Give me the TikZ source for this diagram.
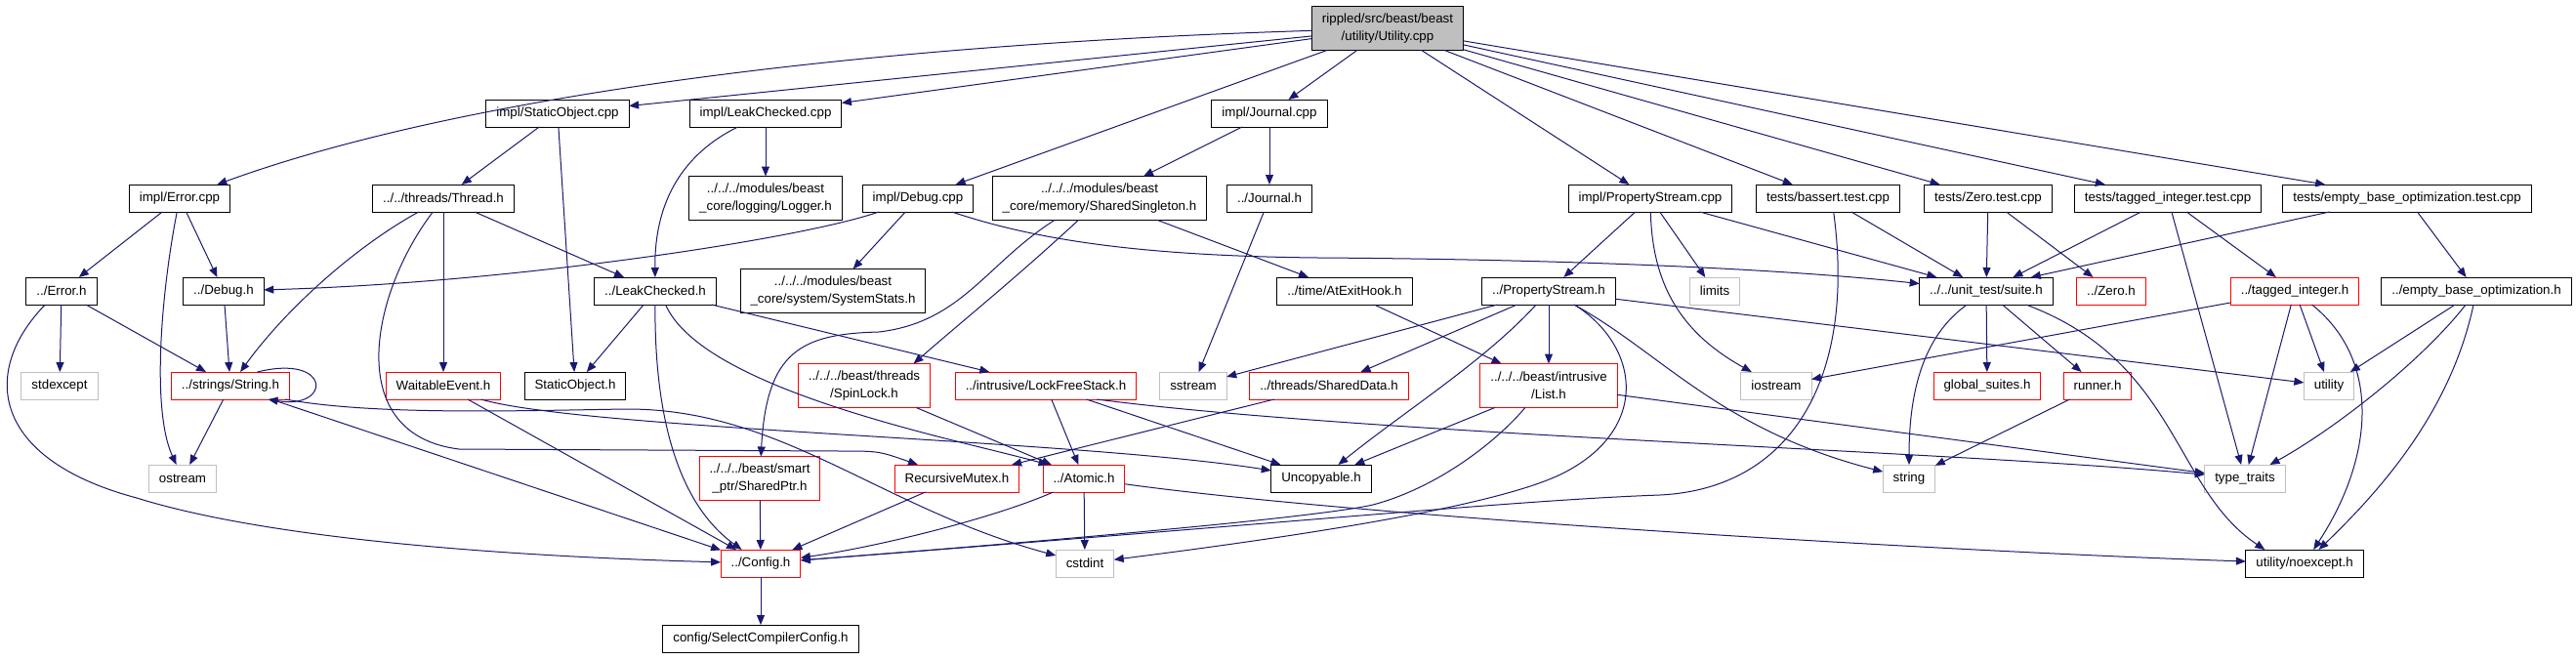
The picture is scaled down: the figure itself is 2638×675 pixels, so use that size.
\documentclass[tikz,border=0pt]{standalone}
\usepackage{fontspec}
\setmainfont{Liberation Sans}
\usepackage{xcolor}
\usepackage{tikz}
\usetikzlibrary{arrows.meta}
\definecolor{edgeblue}{RGB}{25,25,112}
\definecolor{sysgray}{RGB}{191,191,191}
\newcommand{\gf}{\fontsize{13.33}{18}\selectfont}

\begin{document}
\begin{tikzpicture}[x=1pt, y=-1pt,
  every node/.style={outer sep=0pt, font=\gf},
  incl/.style={draw=black, fill=white, line width=1pt, inner xsep=10.5pt, inner ysep=2pt, minimum height=28pt},
  inclred/.style={incl, draw=red},
  inclsys/.style={incl, draw=sysgray},
  incltop/.style={incl, fill=sysgray},
  twoline/.style={align=center, minimum height=45pt},
  dep/.style={draw=edgeblue, line width=1pt, -{Triangle[length=10pt,width=8pt]}}]
\fill[white] (0,0) rectangle (2638,675);
\useasboundingbox (0,0) rectangle (2638,675);
% ================= row 0: the file itself
\node[incltop, twoline] (U) at (1421,29) {rippled/src/beast/beast\\/utility/Utility.cpp};
% ================= row 1
\node[incl] (socpp) at (571,116) {impl/StaticObject.cpp};
\node[incl] (lccpp) at (784,116) {impl/LeakChecked.cpp};
\node[incl] (jcpp) at (1300,116) {impl/Journal.cpp};
% ================= row 2
\node[incl] (errcpp) at (184,203) {impl/Error.cpp};
\node[incl] (thread) at (454,203) {../../threads/Thread.h};
\node[incl, twoline] (logger) at (784,203) {../../../modules/beast\\\_core/logging/Logger.h};
\node[incl] (dbgcpp) at (940,203) {impl/Debug.cpp};
\node[incl, twoline] (single) at (1126,203) {../../../modules/beast\\\_core/memory/SharedSingleton.h};
\node[incl] (journalh) at (1300,203) {../Journal.h};
\node[incl] (pscpp) at (1690,203) {impl/PropertyStream.cpp};
\node[incl] (bassert) at (1872,203) {tests/bassert.test.cpp};
\node[incl] (zerocpp) at (2036,203) {tests/Zero.test.cpp};
\node[incl] (tagcpp) at (2220,203) {tests/tagged\_integer.test.cpp};
\node[incl] (ebocpp) at (2465,203) {tests/empty\_base\_optimization.test.cpp};
% ================= row 3
\node[incl] (errh) at (63,298) {../Error.h};
\node[incl] (dbgh) at (229,298) {../Debug.h};
\node[incl] (lch) at (671,298) {../LeakChecked.h};
\node[incl, twoline] (sysstats) at (853,298) {../../../modules/beast\\\_core/system/SystemStats.h};
\node[incl] (atexit) at (1377,298) {../time/AtExitHook.h};
\node[incl] (psh) at (1586,298) {../PropertyStream.h};
\node[inclsys] (limits) at (1756,298) {limits};
\node[incl] (suite) at (2034,298) {../../unit\_test/suite.h};
\node[inclred] (zeroh) at (2162,298) {../Zero.h};
\node[inclred] (tagh) at (2350,298) {../tagged\_integer.h};
\node[incl] (eboh) at (2536,298) {../empty\_base\_optimization.h};
% ================= row 4
\node[inclsys] (stdexcept) at (61,395) {stdexcept};
\node[inclred] (strh) at (236,395) {../strings/String.h};
\node[inclred] (waitev) at (454,395) {WaitableEvent.h};
\node[incl] (sobjh) at (589,395) {StaticObject.h};
\node[inclred, twoline] (spinlock) at (885,395) {../../../beast/threads\\/SpinLock.h};
\node[inclred] (lfstack) at (1071,395) {../intrusive/LockFreeStack.h};
\node[inclsys] (sstream) at (1222,395) {sstream};
\node[inclred] (shdata) at (1361,395) {../threads/SharedData.h};
\node[inclred, twoline] (listh) at (1586,395) {../../../beast/intrusive\\/List.h};
\node[inclsys] (iostream) at (1819,395) {iostream};
\node[inclred] (gsuites) at (2035,395) {global\_suites.h};
\node[inclred] (runner) at (2148,395) {runner.h};
\node[inclsys] (utility) at (2385,395) {utility};
% ================= row 5
\node[inclsys] (ostream) at (187,490) {ostream};
\node[inclred, twoline] (shptr) at (778,490) {../../../beast/smart\\\_ptr/SharedPtr.h};
\node[inclred] (rmutex) at (980,490) {RecursiveMutex.h};
\node[inclred] (atomic) at (1110,490) {../Atomic.h};
\node[incl] (uncopy) at (1353,490) {Uncopyable.h};
\node[inclsys] (string) at (1955,490) {string};
\node[inclsys] (typetr) at (2299,490) {type\_traits};
% ================= rows 6 and 7
\node[inclred] (config) at (779,577) {../Config.h};
\node[inclsys] (cstdint) at (1111,577) {cstdint};
\node[incl] (noexcept) at (2360,577) {utility/noexcept.h};
\node[incl] (selcfg) at (779,654) {config/SelectCompilerConfig.h};
% ---- edges from the top file
\draw[dep] (U) -- (socpp);
\draw[dep] (U) -- (lccpp);
\draw[dep] (U) .. controls (900,45) and (480,95) .. (errcpp);
\draw[dep] (U) -- (dbgcpp);
\draw[dep] (U) -- (jcpp);
\draw[dep] (U) -- (pscpp);
\draw[dep] (U) -- (bassert);
\draw[dep] (U) -- (zerocpp);
\draw[dep] (U) -- (tagcpp);
\draw[dep] (U) -- (ebocpp);
% ---- row 1
\draw[dep] (socpp) -- (thread);
\draw[dep] (socpp) -- (sobjh);
\draw[dep] (lccpp) .. controls (715,150) and (670,190) .. (lch);
\draw[dep] (lccpp) -- (logger);
\draw[dep] (jcpp) -- (single);
\draw[dep] (jcpp) -- (journalh);
% ---- row 2
\draw[dep] (errcpp) -- (errh);
\draw[dep] (errcpp) -- (dbgh);
\draw[dep] (errcpp) .. controls (165,300) and (155,420) .. (ostream);
\draw[dep] (thread) .. controls (360,255) and (290,320) .. (strh);
\draw[dep] (thread) .. controls (380,300) and (350,445) .. (470,460) -- (860,462) .. controls (900,462) .. (rmutex);
\draw[dep] (thread) -- (waitev);
\draw[dep] (thread) -- (lch);
\draw[dep] (dbgcpp) .. controls (820,245) and (520,290) .. (dbgh);
\draw[dep] (dbgcpp) -- (sysstats);
\draw[dep] (dbgcpp.-22) .. controls (1050,242) and (1150,262) .. (1350,264) .. controls (1650,266) and (1850,278) .. (suite);
\draw[dep] (single.-154) .. controls (1010,270) and (985,330) .. (900,340) .. controls (820,342) and (785,360) .. (shptr);
\draw[dep] (single.-134) .. controls (1040,285) and (990,325) .. (spinlock.24);
\draw[dep] (single) -- (atexit);
\draw[dep] (journalh) -- (sstream);
\draw[dep] (pscpp) -- (psh);
\draw[dep] (pscpp) -- (limits);
\draw[dep] (pscpp) .. controls (1692,290) and (1720,340) .. (iostream);
\draw[dep] (pscpp) -- (suite);
\draw[dep] (bassert) -- (suite);
\draw[dep] (bassert.-68) .. controls (1900,380) and (1840,500) .. (1700,507) .. controls (1560,512) and (1350,533) .. (config);
\draw[dep] (zerocpp) -- (suite);
\draw[dep] (zerocpp) -- (zeroh);
\draw[dep] (tagcpp) -- (suite);
\draw[dep] (tagcpp) -- (tagh);
\draw[dep] (tagcpp) -- (typetr);
\draw[dep] (ebocpp.-170) -- (suite.17);
\draw[dep] (ebocpp) -- (eboh);
% ---- row 3
\draw[dep] (errh) -- (stdexcept);
\draw[dep] (errh) -- (strh);
\draw[dep] (errh.-140) .. controls (-20,380) and (-10,470) .. (140,510) .. controls (300,560) and (600,572) .. (config);
\draw[dep] (dbgh) -- (strh);
\draw[dep] (lch) -- (sobjh);
\draw[dep] (lch) .. controls (670,440) and (700,520) .. (config);
\draw[dep] (lch.-53) .. controls (720,400) and (980,450) .. (atomic.159);
\draw[dep] (lch) -- (lfstack);
\draw[dep] (atexit) -- (listh);
\draw[dep] (psh) -- (sstream);
\draw[dep] (psh) -- (shdata);
\draw[dep] (psh) .. controls (1520,370) and (1440,420) .. (uncopy);
\draw[dep] (psh) -- (listh);
\draw[dep] (psh.-28) .. controls (1680,355) and (1690,440) .. (1600,485) .. controls (1528,521) and (1300,553) .. (cstdint);
\draw[dep] (psh) .. controls (1700,360) and (1760,440) .. (string);
\draw[dep] (psh) -- (utility);
\draw[dep] (suite) .. controls (1975,340) and (1955,390) .. (string);
\draw[dep] (suite) -- (gsuites);
\draw[dep] (suite) -- (runner);
\draw[dep] (suite.-19) .. controls (2230,370) and (2225,500) .. (noexcept.161);
\draw[dep] (tagh) -- (iostream);
\draw[dep] (tagh) -- (typetr);
\draw[dep] (tagh) -- (utility);
\draw[dep] (tagh) .. controls (2440,370) and (2430,470) .. (noexcept);
\draw[dep] (eboh) -- (utility);
\draw[dep] (eboh) .. controls (2480,370) and (2390,440) .. (typetr);
\draw[dep] (eboh) .. controls (2510,420) and (2440,500) .. (noexcept);
% ---- row 4
\draw[dep] (strh) -- (ostream);
\draw[dep] (strh.27) .. controls (340,362) and (340,420) .. (strh.-20);
\draw[dep] (strh) -- (config);
\draw[dep] (strh.-14) .. controls (380,425) and (520,421) .. (640,419) .. controls (800,418) and (900,520) .. (cstdint);
\draw[dep] (waitev.-20) .. controls (600,440) and (1100,450) .. (uncopy);
\draw[dep] (waitev) -- (config);
\draw[dep] (spinlock) -- (atomic);
\draw[dep] (lfstack) -- (atomic);
\draw[dep] (lfstack) -- (uncopy);
\draw[dep] (lfstack.-15) .. controls (1400,445) and (2000,462) .. (typetr);
\draw[dep] (shdata) -- (rmutex);
\draw[dep] (listh) -- (uncopy);
\draw[dep] (listh.-137) .. controls (1530,455) and (1470,500) .. (1406,517) .. controls (1340,532) and (1000,560) .. (config);
\draw[dep] (listh) -- (typetr);
\draw[dep] (runner) -- (string);
% ---- row 5
\draw[dep] (shptr) -- (config);
\draw[dep] (rmutex) -- (config);
\draw[dep] (atomic) .. controls (1020,530) and (900,560) .. (config);
\draw[dep] (atomic) -- (cstdint);
\draw[dep] (atomic) .. controls (1400,530) and (2000,565) .. (noexcept);
\draw[dep] (config) -- (selcfg);
\end{tikzpicture}
\end{document}
